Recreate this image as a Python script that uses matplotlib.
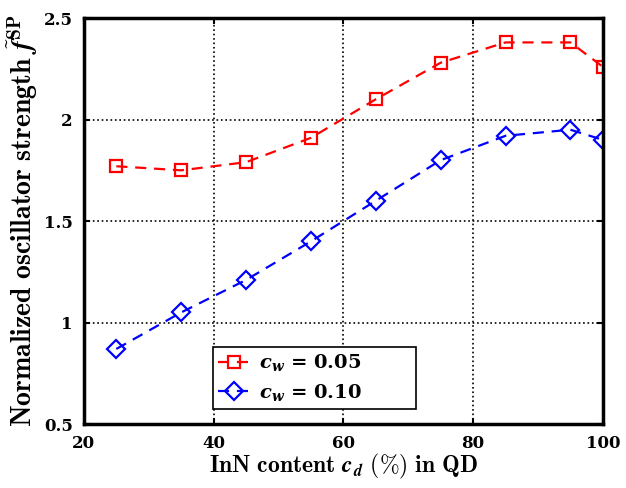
import matplotlib
matplotlib.use('Agg')
import matplotlib.pyplot as plt

# data
cd = [25, 35, 45, 55, 65, 75, 85, 95, 100]
f_cw005 = [1.77, 1.75, 1.79, 1.91, 2.10, 2.28, 2.38, 2.38, 2.26]
f_cw010 = [0.87, 1.05, 1.21, 1.40, 1.60, 1.80, 1.92, 1.95, 1.90]
xticks = [20, 40, 60, 80, 100]
yticks = [0.5, 1, 1.5, 2, 2.5]
ytick_labels = ['0.5', '1', '1.5', '2', '2.5']

plt.rcParams['mathtext.fontset'] = 'cm'
plt.rcParams['font.family'] = 'DejaVu Serif'

fig = plt.figure(figsize=(6.26, 4.88), dpi=100)
ax = fig.add_axes([0.134, 0.131, 0.829, 0.832])

ax.plot(cd, f_cw005, 'r--s', markersize=9, markerfacecolor='none', markeredgewidth=1.6,
        linewidth=1.6, dashes=(5, 3.5), label=r'$\mathbfit{c}_{\mathbfit{w}}$ = 0.05        ')
ax.plot(cd, f_cw010, 'b--D', markersize=9, markerfacecolor='none', markeredgewidth=1.6,
        linewidth=1.6, dashes=(5, 3.5), label=r'$\mathbfit{c}_{\mathbfit{w}}$ = 0.10        ')

ax.set_xlim(20, 100)
ax.set_ylim(0.5, 2.5)
ax.set_xticks(xticks)
ax.set_xticklabels([str(t) for t in xticks], fontsize=12, fontweight='bold')
ax.set_yticks(yticks)
ax.set_yticklabels(ytick_labels, fontsize=12, fontweight='bold')
ax.tick_params(direction='in', length=4, width=1.5, top=True, right=True, pad=8)
ax.grid(True, color='black', linestyle=':', linewidth=1.2)

for s in ax.spines.values():
    s.set_linewidth(2.5)

ax.set_xlabel(r'$\mathbf{InN\ content\ }\mathbfit{c}_{\mathbfit{d}}\mathbf{\ (\%)\ in\ QD}$',
              fontsize=17, labelpad=0)
ax.set_ylabel(r'$\mathbf{Normalized\ oscillator\ strength\ }\tilde{\mathbfit{f}}^{\mathbf{SP}}$',
              fontsize=20, labelpad=3)

leg = ax.legend(loc='lower left', bbox_to_anchor=(0.248, 0.037),
                prop=dict(family='DejaVu Serif', weight='bold', size=14,
                          math_fontfamily='dejavuserif'),
                fancybox=False, edgecolor='black', framealpha=1, handlelength=1.6,
                handletextpad=0.5, borderpad=0.3, labelspacing=0.45, borderaxespad=0)
leg.get_frame().set_linewidth(1.2)

fig.savefig('out.png', dpi=100)
